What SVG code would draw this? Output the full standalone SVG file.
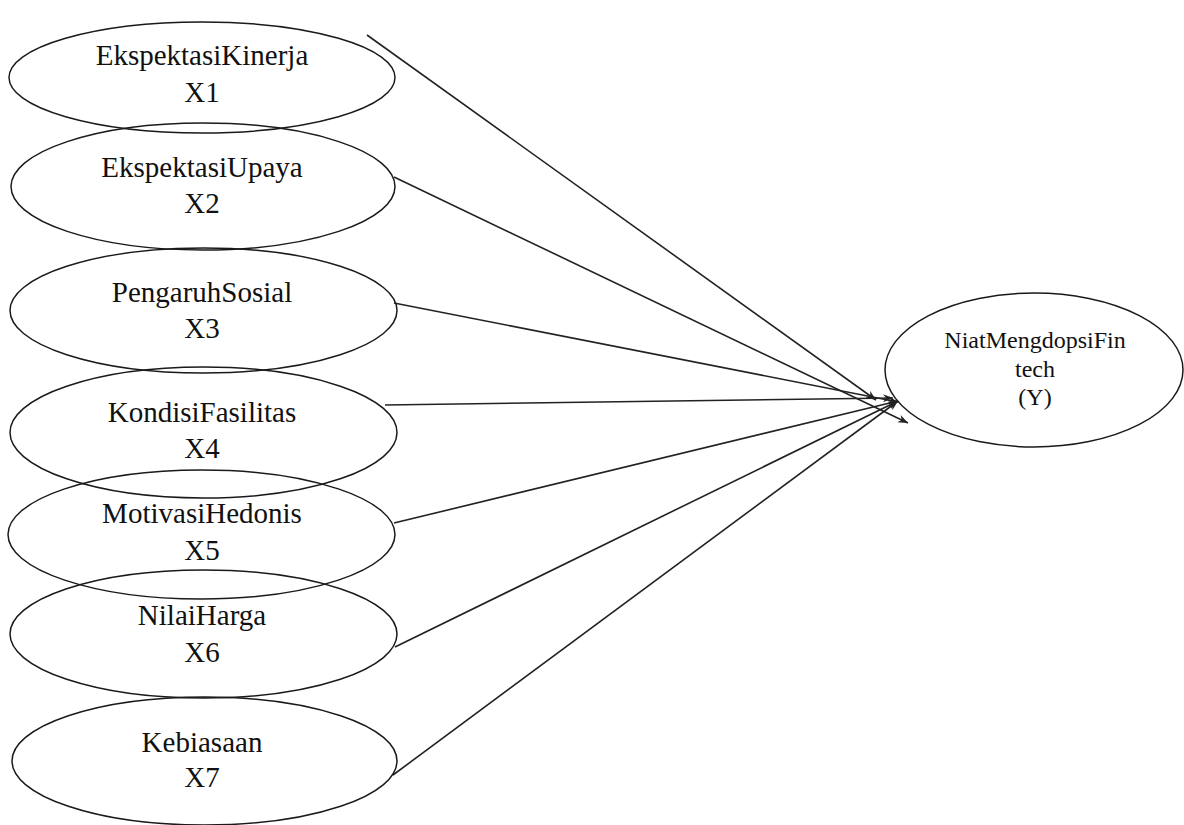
<svg xmlns="http://www.w3.org/2000/svg" width="1184" height="825" viewBox="0 0 1184 825">
  <style>
    .node { fill: none; stroke: #1a1a1a; stroke-width: 1.5; }
    .lbl { font-family: "Liberation Serif", "Times New Roman", serif; font-size: 29px; fill: #111; text-anchor: middle; }
    .lblr { font-family: "Liberation Serif", "Times New Roman", serif; font-size: 24px; fill: #111; text-anchor: middle; }
    .edge { stroke: #222; stroke-width: 1.6; fill: none; marker-end: url(#arr); }
  </style>
  <defs>
    <marker id="arr" markerUnits="userSpaceOnUse" markerWidth="12" markerHeight="10" refX="10" refY="4" orient="auto">
      <path d="M0,0 L10,4 L0,8 L3,4 Z" fill="#222"/>
    </marker>
  </defs>
  <rect width="1184" height="825" fill="#fff"/>
  <g id="connectors">
    <line class="edge" x1="367" y1="35" x2="876" y2="400"/>
    <line class="edge" x1="394" y1="177" x2="908" y2="423"/>
    <line class="edge" x1="394" y1="303" x2="898" y2="402"/>
    <line class="edge" x1="385" y1="405" x2="893" y2="398"/>
    <line class="edge" x1="394" y1="523" x2="898" y2="401"/>
    <line class="edge" x1="395" y1="647" x2="898" y2="401"/>
    <line class="edge" x1="393" y1="775" x2="898" y2="401"/>
  </g>
  <g id="x1">
    <ellipse class="node" cx="202" cy="77.5" rx="193" ry="55.5"/>
    <text class="lbl" x="202" y="65">EkspektasiKinerja</text>
    <text class="lbl" x="202" y="102">X1</text>
  </g>
  <g id="x2">
    <ellipse class="node" cx="203" cy="186.5" rx="192" ry="63.5"/>
    <text class="lbl" x="202" y="177">EkspektasiUpaya</text>
    <text class="lbl" x="202" y="213">X2</text>
  </g>
  <g id="x3">
    <ellipse class="node" cx="203.5" cy="310.5" rx="193.5" ry="62.5"/>
    <text class="lbl" x="202" y="302">PengaruhSosial</text>
    <text class="lbl" x="202" y="338">X3</text>
  </g>
  <g id="x4">
    <ellipse class="node" cx="203.5" cy="432.5" rx="193.5" ry="65.5"/>
    <text class="lbl" x="202" y="422">KondisiFasilitas</text>
    <text class="lbl" x="202" y="458">X4</text>
  </g>
  <g id="x5">
    <ellipse class="node" cx="201.5" cy="534.5" rx="193.5" ry="64.5"/>
    <text class="lbl" x="202" y="523">MotivasiHedonis</text>
    <text class="lbl" x="202" y="560">X5</text>
  </g>
  <g id="x6">
    <ellipse class="node" cx="203.5" cy="634" rx="193.5" ry="64"/>
    <text class="lbl" x="202" y="625">NilaiHarga</text>
    <text class="lbl" x="202" y="662">X6</text>
  </g>
  <g id="x7">
    <ellipse class="node" cx="204.5" cy="761" rx="192.5" ry="64"/>
    <text class="lbl" x="202" y="752">Kebiasaan</text>
    <text class="lbl" x="202" y="787">X7</text>
  </g>
  <g id="y">
    <ellipse class="node" cx="1034" cy="370" rx="149" ry="77"/>
    <text class="lblr" x="1035" y="348">NiatMengdopsiFin</text>
    <text class="lblr" x="1035" y="377">tech</text>
    <text class="lblr" x="1035" y="405">(Y)</text>
  </g>
</svg>
